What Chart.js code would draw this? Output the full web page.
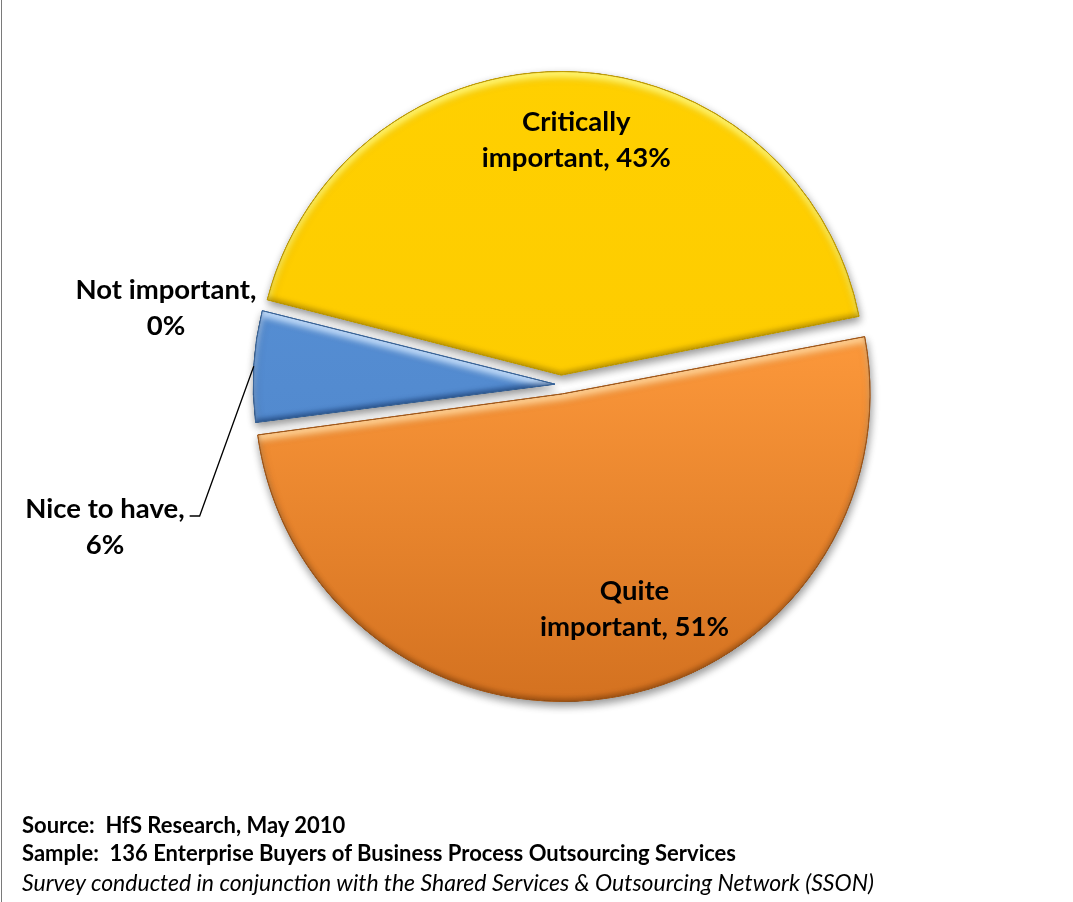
<!DOCTYPE html>
<html>
<head>
<meta charset="utf-8">
<script src="https://cdn.jsdelivr.net/npm/chart.js@4/dist/chart.umd.min.js"></script>
<style>
  html, body { margin: 0; padding: 0; background: #ffffff; }
  #page { position: relative; width: 1073px; height: 902px; overflow: hidden; background: #ffffff; }
  #plot { position: absolute; left: 0; top: 0; width: 1073px; height: 902px; }
  #edge { position: absolute; left: 1px; top: 0; width: 1px; height: 902px; background: #7a7a7a; }
  .note { position: absolute; left: 22px; font-family: Lato, "Open Sans", sans-serif; font-size: 22px;
          line-height: 28px; color: #000; white-space: pre; }
  .note.b { font-weight: bold; }
  .note.i { font-style: italic; font-size: 23px; }
</style>
</head>
<body>
<div id="page">
  <div id="plot"><canvas id="pie"></canvas></div>
  <div id="edge"></div>
  <div class="note b" style="top:811px">Source:  HfS Research, May 2010</div>
  <div class="note b" style="top:839px">Sample:  136 Enterprise Buyers of Business Process Outsourcing Services</div>
  <div class="note i" style="top:868px">Survey conducted in conjunction with the Shared Services &amp; Outsourcing Network (SSON)</div>
</div>

<script>
// Survey answers, in drawing order (clockwise)
const categories = ['Critically important', 'Quite important', 'Nice to have', 'Not important'];
const shares = [43, 51, 6, 0];

// How each label is split into two lines
const labelLines = [
  ['Critically', 'important, 43%'],
  ['Quite', 'important, 51%'],
  ['Nice to have,', '6%'],
  ['Not important,', '0%']
];

// Slice colours: [top of gradient, bottom of gradient, outline, highlight, shade]
const palette = [
  ['#FFD000', '#FCC800', '#C9A200', 'rgba(255,245,110,1)', 'rgba(120,90,0,0.45)'],
  ['#FB973A', '#D2701F', '#A85A18', 'rgba(255,210,150,0.95)', 'rgba(90,40,0,0.45)'],
  ['#5A94DA', '#4C82C6', '#3A679E', 'rgba(205,228,255,0.9)', 'rgba(10,40,90,0.55)'],
  ['#A6A6A6', '#A6A6A6', '#808080', 'rgba(255,255,255,0.6)', 'rgba(0,0,0,0.4)']
];

// Explosion of each slice (Chart.js offset units)
const explode = [38, 38, 24, 0];

// Label placement: inside labels sit along the slice direction; outside ones are set beside the pie
const labelLayout = [
  { inside: true, frac: 0.745, turn: 2.2 },
  { inside: true, frac: 0.766, turn: -8.6 },
  { inside: false, x: 105, y: 536, leader: true },
  { inside: false, x: 166, y: 317 }
];

const LABEL_FONT = 'bold 27.5px Lato, "Open Sans", sans-serif';
const LINE_GAP = 36;

// Rebuild the outline Chart.js uses for an arc (including its offset translation)
function arcShape(arc) {
  const p = arc.getProps(['x', 'y', 'startAngle', 'endAngle', 'outerRadius']);
  const off = (arc.options.offset || 0) / 4;
  const mid = (p.startAngle + p.endAngle) / 2;
  const cx = p.x + Math.cos(mid) * off;
  const cy = p.y + Math.sin(mid) * off;
  const circ = p.endAngle - p.startAngle;
  const fix = 1 - Math.sin(Math.min(Math.PI, circ || 0));
  const ro = off * fix;
  const r = p.outerRadius + ro;
  const beta = Math.max(0.001, circ * r - ro / Math.PI) / r;
  const a0 = p.startAngle + (circ - beta) / 2;
  const a1 = p.endAngle - (circ - beta) / 2;
  const path = new Path2D();
  path.moveTo(cx, cy);
  path.arc(cx, cy, r, a0, a1);
  path.closePath();
  return { cx, cy, r, mid, circ, path };
}

function innerShadow(ctx, path, color, dx, dy, blur) {
  ctx.save();
  ctx.clip(path);
  const ring = new Path2D();
  ring.rect(-3000, -3000, 7000, 7000);
  ring.addPath(path);
  ctx.shadowColor = color;
  ctx.shadowBlur = blur;
  ctx.shadowOffsetX = dx;
  ctx.shadowOffsetY = dy;
  ctx.fillStyle = '#000';
  ctx.fill(ring, 'evenodd');
  ctx.restore();
}

// Drop shadow under the slices plus a soft bevel on each one
const bevelPlugin = {
  id: 'bevel',
  beforeDatasetDraw(chart) {
    const ctx = chart.ctx;
    ctx.save();
    ctx.shadowColor = 'rgba(0,0,0,0.42)';
    ctx.shadowBlur = 9;
    ctx.shadowOffsetX = 1;
    ctx.shadowOffsetY = 4;
  },
  afterDatasetDraw(chart) {
    const ctx = chart.ctx;
    ctx.restore();
    chart.getDatasetMeta(0).data.forEach((arc, i) => {
      const s = arcShape(arc);
      if (!(s.circ > 0)) return;
      innerShadow(ctx, s.path, palette[i][3], 0, 6, 6);
      innerShadow(ctx, s.path, palette[i][4], 0, -3, 5);
      ctx.save();
      ctx.strokeStyle = palette[i][2];
      ctx.lineWidth = 1;
      ctx.stroke(s.path);
      ctx.restore();
    });
  }
};

// Category labels with their shares
const labelPlugin = {
  id: 'sliceLabels',
  afterDatasetsDraw(chart) {
    const ctx = chart.ctx;
    const arcs = chart.getDatasetMeta(0).data;
    ctx.save();
    ctx.font = LABEL_FONT;
    ctx.fillStyle = '#000';
    ctx.textAlign = 'center';
    ctx.textBaseline = 'alphabetic';
    arcs.forEach((arc, i) => {
      const lay = labelLayout[i];
      const s = arcShape(arc);
      let x, y;
      if (lay.inside) {
        const a = s.mid + lay.turn * Math.PI / 180;
        x = s.cx + Math.cos(a) * s.r * lay.frac;
        y = s.cy + Math.sin(a) * s.r * lay.frac;
      } else {
        x = lay.x; y = lay.y;
      }
      const lines = labelLines[i];
      lines.forEach((t, k) => {
        ctx.fillText(t, x, y + (k - (lines.length - 1) / 2) * LINE_GAP);
      });
      if (lay.leader) {
        const w = ctx.measureText(lines[0]).width;
        const sx = x + w / 2 + 5;
        const sy = y - LINE_GAP / 2 - 2;
        const ex = s.cx + Math.cos(s.mid) * s.r;
        const ey = s.cy + Math.sin(s.mid) * s.r;
        ctx.beginPath();
        ctx.moveTo(sx, sy);
        ctx.lineTo(sx + 10, sy);
        ctx.lineTo(ex, ey);
        ctx.strokeStyle = '#000';
        ctx.lineWidth = 1.3;
        ctx.stroke();
      }
    });
    ctx.restore();
  }
};

function sliceFill(context) {
  const i = context.dataIndex;
  const area = context.chart.chartArea;
  if (!area) return palette[i][0];
  const g = context.chart.ctx.createLinearGradient(0, 70, 0, 705);
  if (i === 1) {
    g.addColorStop(0, palette[i][0]);
    g.addColorStop(0.42, palette[i][0]);
    g.addColorStop(1, palette[i][1]);
  } else {
    g.addColorStop(0, palette[i][0]);
    g.addColorStop(1, palette[i][1]);
  }
  return g;
}

new Chart(document.getElementById('pie'), {
  type: 'pie',
  data: {
    labels: categories,
    datasets: [{
      data: shares,
      backgroundColor: sliceFill,
      borderColor: palette.map(p => p[2]),
      borderWidth: 1,
      offset: explode
    }]
  },
  options: {
    responsive: true,
    maintainAspectRatio: false,
    animation: false,
    events: [],
    rotation: -75.8,
    radius: 298,
    layout: { padding: { left: 261, right: 212, top: 84, bottom: 217 } },
    plugins: {
      legend: { display: false },
      tooltip: { enabled: false },
      title: { display: false }
    }
  },
  plugins: [bevelPlugin, labelPlugin]
});
</script>
</body>
</html>
